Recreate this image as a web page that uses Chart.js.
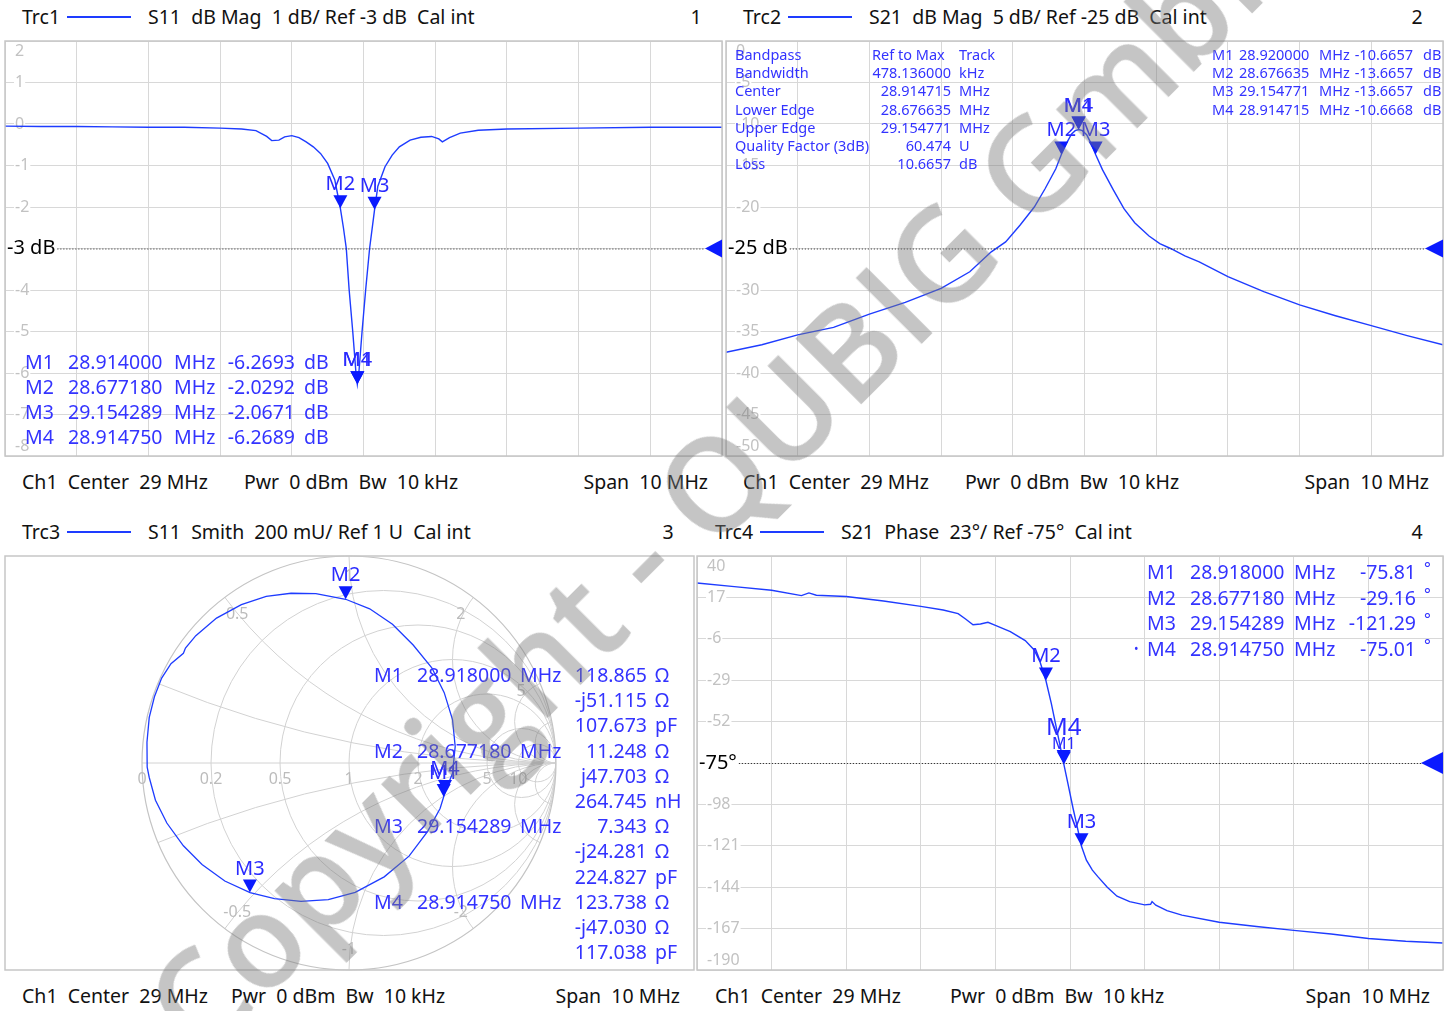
<!DOCTYPE html>
<html>
<head>
<meta charset="utf-8">
<title>VNA S11 / S21</title>
<script src="https://cdn.jsdelivr.net/npm/chart.js@4.4.1/dist/chart.umd.min.js"></script>
<style>
  html, body { margin: 0; padding: 0; background: #fff; }
  body { position: relative; width: 1456px; height: 1011px; overflow: hidden; font-family: "Noto Sans", "Open Sans", sans-serif; }
  canvas { position: absolute; }
  .t { position: absolute; white-space: pre; line-height: 1; }
  .bar { position: absolute; height: 2px; background: #1e3cff; }
  .wm { position: absolute; white-space: pre; font-family: "Open Sans", sans-serif; font-weight: 600; font-size: 130px;
        line-height: 1; color: rgba(120,120,120,0.43); transform-origin: 0 80%; transform: rotate(-45deg); pointer-events: none; }
</style>
</head>
<body>
<script>
// frequency axis (MHz) and y divisions
const freqTicks = [24, 25, 26, 27, 28, 29, 30, 31, 32, 33, 34];
const trc1Ticks = [2, 1, 0, -1, -2, -3, -4, -5, -6, -7, -8];
const trc2Ticks = [0, -5, -10, -15, -20, -25, -30, -35, -40, -45, -50];
const trc4Ticks = [40, 17, -6, -29, -52, -75, -98, -121, -144, -167, -190];

// Trc1: S11 dB Mag
const trc1Freq = [24.0, 24.5, 25.0, 25.5, 26.0, 26.5, 27.0, 27.3, 27.5, 27.65, 27.72, 27.82, 27.9, 28.0, 28.1, 28.2, 28.3, 28.4, 28.5, 28.6,
  28.677, 28.72, 28.76, 28.8, 28.85, 28.895, 28.914, 28.935, 28.98, 29.03, 29.085, 29.154, 29.2, 29.3, 29.4, 29.5, 29.65, 29.8, 29.95, 30.05,
  30.1, 30.2, 30.35, 30.6, 31.0, 32.0, 33.0, 34.0];
const trc1Db = [-0.05, -0.06, -0.06, -0.07, -0.08, -0.08, -0.1, -0.12, -0.16, -0.3, -0.4, -0.39, -0.31, -0.28, -0.33, -0.43, -0.55, -0.71, -0.95, -1.35,
  -2.03, -2.5, -3.0, -4.0, -5.0, -6.0, -6.27, -6.0, -5.0, -4.0, -3.0, -2.07, -1.5, -1.03, -0.75, -0.55, -0.39, -0.32, -0.3, -0.36,
  -0.43, -0.33, -0.22, -0.15, -0.12, -0.1, -0.08, -0.08];

// Trc2: S21 dB Mag
const trc2Freq = [24.0, 24.5, 25.0, 25.5, 26.0, 26.5, 27.0, 27.4, 27.7, 27.9, 28.1, 28.3, 28.45, 28.6, 28.677, 28.75, 28.82, 28.87, 28.92, 28.97,
  29.03, 29.09, 29.155, 29.25, 29.4, 29.55, 29.7, 29.9, 30.05, 30.2, 30.4, 30.6, 31.0, 31.5, 32.0, 32.5, 33.0, 33.5, 34.0];
const trc2Db = [-37.5, -36.6, -35.4, -34.5, -32.9, -31.5, -29.8, -27.8, -25.4, -24.2, -22.2, -20.0, -17.8, -15.4, -13.67, -12.3, -11.2, -10.8, -10.67, -10.8,
  -11.3, -12.3, -13.67, -15.5, -17.9, -20.2, -21.9, -23.5, -24.4, -25.0, -25.9, -26.6, -28.4, -30.2, -31.8, -33.1, -34.3, -35.5, -36.6];

// Trc4: S21 Phase (deg)
const trc4Freq = [24.0, 24.5, 25.0, 25.4, 25.5, 25.6, 26.0, 26.5, 27.0, 27.3, 27.5, 27.6, 27.7, 27.8, 27.9, 28.0, 28.2, 28.4, 28.52, 28.6,
  28.677, 28.75, 28.8, 28.86, 28.918, 28.98, 29.04, 29.1, 29.154, 29.22, 29.3, 29.37, 29.5, 29.63, 29.8, 30.0, 30.08, 30.1, 30.15, 30.3,
  30.5, 31.0, 31.5, 32.0, 32.5, 33.0, 33.5, 34.0];
const trc4Phase = [25, 23, 21, 18, 19.5, 18.2, 17.5, 15, 12, 10, 8, 5, 1.8, 2.2, 3.2, 1.5, -2, -7, -12.2, -19,
  -29.16, -42, -52, -64, -75.8, -88, -100, -111, -121.3, -129, -134.5, -138, -144, -149, -152, -153.8, -153.5, -152, -154, -157,
  -159.5, -163.5, -165.8, -168, -170, -172.5, -174, -175];

// Trc3: S11 Smith, reflection coefficient (real / imag)
const trc3Re = [-0.975, -0.976, -0.965, -0.94, -0.905, -0.86, -0.80, -0.79, -0.74, -0.64, -0.52, -0.40, -0.28, -0.16, -0.016, 0.10, 0.21, 0.31, 0.40, 0.46,
  0.50, 0.513, 0.50, 0.463, 0.44, 0.38, 0.29, 0.17, 0.03, -0.10, -0.232, -0.36, -0.478, -0.60, -0.71, -0.80, -0.88, -0.935, -0.965, -0.975];
const trc3Im = [-0.02, 0.10, 0.22, 0.32, 0.41, 0.48, 0.53, 0.555, 0.615, 0.70, 0.765, 0.805, 0.82, 0.818, 0.791, 0.745, 0.67, 0.57, 0.46, 0.34,
  0.21, 0.08, -0.05, -0.145, -0.22, -0.33, -0.45, -0.55, -0.625, -0.66, -0.668, -0.655, -0.626, -0.57, -0.49, -0.40, -0.29, -0.18, -0.07, -0.02];
const smithR = [0.2, 0.5, 1, 2, 5, 10];
const smithX = [0.2, 0.5, 1, 2, 5, 10];
const smithAxisLabels = [0, 0.2, 0.5, 1, 2, 5, 10];
const smithArcLabels = [0.5, 1, 2, 5, -0.5, -1, -2];

// markers
const mkNames = ['M1', 'M2', 'M3', 'M4'];
const trc1MkFreq = [28.914, 28.67718, 29.154289, 28.91475];
const trc1MkVal = [-6.2693, -2.0292, -2.0671, -6.2689];
const trc2MkFreq = [28.92, 28.676635, 29.154771, 28.914715];
const trc2MkVal = [-10.6657, -13.6657, -13.6657, -10.6668];
const trc3MkFreq = [28.918, 28.67718, 29.154289, 28.91475];
const trc3MkR = [118.865, 11.248, 7.343, 123.738];
const trc3MkX = [-51.115, 47.703, -24.281, -47.030];
const trc3MkLC = [107.673, 264.745, 224.827, 117.038];
const trc3MkLCUnit = ['pF', 'nH', 'pF', 'pF'];
const trc4MkFreq = [28.918, 28.67718, 29.154289, 28.91475];
const trc4MkVal = [-75.81, -29.16, -121.29, -75.01];

// bandpass search result (Trc2)
const bpLabels = ['Bandpass', 'Bandwidth', 'Center', 'Lower Edge', 'Upper Edge', 'Quality Factor (3dB)', 'Loss'];
const bpValues = ['Ref to Max', '478.136000', '28.914715', '28.676635', '29.154771', '60.474', '10.6657'];
const bpUnits = ['Track', 'kHz', 'MHz', 'MHz', 'MHz', 'U', 'dB'];

const blue = '#1e3cff';
const markBlue = '#0a1aff';
const textBlue = '#3333ff';
const FONT = '"Noto Sans", "Open Sans", sans-serif';
const PAD = 8;
const Z0 = 50;

const boxes = {
  trc1: { left: 5, top: 41, width: 717, height: 415 },
  trc2: { left: 726, top: 41, width: 717, height: 415 },
  trc3: { left: 5, top: 556, width: 689, height: 414 },
  trc4: { left: 697, top: 556, width: 746, height: 414 }
};
const smithCenterX = 349;

function put(x, y, str, o = {}) {
  const d = document.createElement('div');
  d.className = 't';
  d.textContent = str;
  d.style.left = x + 'px';
  d.style.top = y + 'px';
  d.style.fontSize = (o.size || 19.5) + 'px';
  d.style.color = o.color || '#111';
  const tx = o.align === 'right' ? '-100%' : o.align === 'center' ? '-50%' : '0';
  d.style.transform = `translate(${tx}, -55%)`;
  document.body.appendChild(d);
}

function makeCanvas(box) {
  const c = document.createElement('canvas');
  c.width = box.width + 2 * PAD;
  c.height = box.height + 2 * PAD;
  c.style.left = (box.left - PAD) + 'px';
  c.style.top = (box.top - PAD) + 'px';
  c.style.width = c.width + 'px';
  c.style.height = c.height + 'px';
  document.body.appendChild(c);
  return c;
}

function drawMarker(ctx, x, y, name, size = 20, lift = 18) {
  ctx.fillStyle = markBlue;
  ctx.beginPath();
  ctx.moveTo(x - 7, y - 13);
  ctx.lineTo(x + 7, y - 13);
  ctx.lineTo(x, y);
  ctx.closePath();
  ctx.fill();
  ctx.fillStyle = '#2a2aff';
  ctx.font = size + 'px ' + FONT;
  ctx.textAlign = 'center';
  ctx.textBaseline = 'alphabetic';
  ctx.fillText(name, x, y - lift);
}

function drawFrame(chart) {
  const { ctx, chartArea: a } = chart;
  ctx.save();
  ctx.strokeStyle = '#c6c6c6';
  ctx.lineWidth = 1.5;
  ctx.strokeRect(a.left, a.top, a.right - a.left, a.bottom - a.top);
  ctx.restore();
}

const vnaPlugin = {
  id: 'vna',
  beforeDatasetsDraw(chart, args, o) {
    const { ctx, chartArea: a } = chart;
    const ys = chart.scales.y;
    ctx.save();
    ctx.font = '16px ' + FONT;
    ctx.textBaseline = 'middle';
    ctx.textAlign = 'left';
    o.ticks.forEach((v, i) => {
      if (v === o.ref) return;
      let y = ys.getPixelForValue(v);
      if (i === 0) y = a.top + 10;
      if (i === o.ticks.length - 1) y = a.bottom - 10;
      const s = String(v);
      const w = ctx.measureText(s).width;
      ctx.fillStyle = '#fff';
      ctx.fillRect(a.left + 9, y - 8, w + 2, 16);
      ctx.fillStyle = '#c2c2c2';
      ctx.fillText(s, a.left + 10, y);
    });
    ctx.restore();
  },
  afterDatasetsDraw(chart, args, o) {
    const { ctx, chartArea: a } = chart;
    const xs = chart.scales.x, ys = chart.scales.y;
    drawFrame(chart);
    ctx.save();
    // reference line
    const yr = ys.getPixelForValue(o.ref);
    ctx.font = '20px ' + FONT;
    ctx.textBaseline = 'middle';
    ctx.textAlign = 'left';
    const w = ctx.measureText(o.refLabel).width;
    ctx.fillStyle = '#fff';
    ctx.fillRect(a.left + 1, yr - 10, w + 3, 20);
    ctx.fillStyle = '#000';
    ctx.fillText(o.refLabel, a.left + 2, yr);
    ctx.strokeStyle = '#222';
    ctx.lineWidth = 1;
    ctx.setLineDash([1, 2]);
    ctx.beginPath();
    ctx.moveTo(a.left + w + 4, yr + 0.5);
    ctx.lineTo(a.right - o.triW, yr + 0.5);
    ctx.stroke();
    ctx.setLineDash([]);
    ctx.fillStyle = markBlue;
    ctx.beginPath();
    ctx.moveTo(a.right, yr - o.triH);
    ctx.lineTo(a.right, yr + o.triH);
    ctx.lineTo(a.right - o.triW, yr);
    ctx.closePath();
    ctx.fill();
    // markers, M1 and M4 last
    [1, 2, 0, 3].forEach(i => {
      const x = xs.getPixelForValue(o.mkFreq[i]), y = ys.getPixelForValue(o.mkVal[i]);
      if (o.stackM4 && i === 0) drawMarker(ctx, x, y, mkNames[i], 16, 15);
      else if (o.stackM4 && i === 3) drawMarker(ctx, x, y, mkNames[i], 24, 28);
      else drawMarker(ctx, x, y, mkNames[i]);
    });
    ctx.restore();
  }
};

function traceChart(box, freq, vals, yTicks, plug) {
  const grid = { color: '#d8d8d8', lineWidth: 1, drawTicks: false };
  return new Chart(makeCanvas(box), {
    type: 'line',
    data: {
      datasets: [{
        data: freq.map((f, i) => ({ x: f, y: vals[i] })),
        borderColor: blue,
        borderWidth: 1.4,
        pointRadius: 0,
        tension: 0
      }]
    },
    options: {
      responsive: false,
      animation: false,
      devicePixelRatio: 1,
      layout: { padding: PAD },
      plugins: { legend: { display: false }, tooltip: { enabled: false }, vna: plug },
      scales: {
        x: {
          type: 'linear', min: freqTicks[0], max: freqTicks[freqTicks.length - 1],
          afterBuildTicks: s => { s.ticks = freqTicks.map(v => ({ value: v })); },
          ticks: { display: false }, grid, border: { display: false }
        },
        y: {
          type: 'linear', min: yTicks[yTicks.length - 1], max: yTicks[0],
          afterBuildTicks: s => { s.ticks = yTicks.map(v => ({ value: v })); },
          ticks: { display: false }, grid, border: { display: false }
        }
      }
    },
    plugins: [vnaPlugin]
  });
}

traceChart(boxes.trc1, trc1Freq, trc1Db, trc1Ticks,
  { ticks: trc1Ticks, ref: -3, refLabel: '-3 dB', triW: 17, triH: 9, mkFreq: trc1MkFreq, mkVal: trc1MkVal });
traceChart(boxes.trc2, trc2Freq, trc2Db, trc2Ticks,
  { ticks: trc2Ticks, ref: -25, refLabel: '-25 dB', triW: 18, triH: 9, mkFreq: trc2MkFreq, mkVal: trc2MkVal });
traceChart(boxes.trc4, trc4Freq, trc4Phase, trc4Ticks,
  { ticks: trc4Ticks, ref: -75, refLabel: '-75°', triW: 22, triH: 11, mkFreq: trc4MkFreq, mkVal: trc4MkVal, stackM4: true });

// Smith chart
function gammaOf(r, x) {
  const zr = r / Z0, zi = x / Z0;
  const nr = zr - 1, ni = zi, dr = zr + 1, di = zi;
  const d = dr * dr + di * di;
  return { re: (nr * dr + ni * di) / d, im: (ni * dr - nr * di) / d };
}

const smithPlugin = {
  id: 'smith',
  beforeDatasetsDraw(chart) {
    const { ctx } = chart;
    const xs = chart.scales.x, ys = chart.scales.y;
    const px = v => xs.getPixelForValue(v), py = v => ys.getPixelForValue(v);
    const R = px(1) - px(0);
    ctx.save();
    ctx.beginPath();
    ctx.arc(px(0), py(0), R, 0, 2 * Math.PI);
    ctx.clip();
    ctx.strokeStyle = '#d2d2d2';
    ctx.lineWidth = 1;
    smithR.forEach(r => {
      ctx.beginPath();
      ctx.arc(px(r / (1 + r)), py(0), R / (1 + r), 0, 2 * Math.PI);
      ctx.stroke();
    });
    smithX.forEach(x => {
      [x, -x].forEach(v => {
        ctx.beginPath();
        ctx.arc(px(1), py(1 / v), R / x, 0, 2 * Math.PI);
        ctx.stroke();
      });
    });
    ctx.beginPath();
    ctx.moveTo(px(-1), py(0));
    ctx.lineTo(px(1), py(0));
    ctx.stroke();
    ctx.restore();
    ctx.save();
    ctx.strokeStyle = '#c4c4c4';
    ctx.lineWidth = 1.2;
    ctx.beginPath();
    ctx.arc(px(0), py(0), R, 0, 2 * Math.PI);
    ctx.stroke();
    ctx.font = '16px ' + FONT;
    ctx.fillStyle = '#bcbcbc';
    ctx.textAlign = 'center';
    ctx.textBaseline = 'middle';
    smithAxisLabels.forEach(r => {
      ctx.fillText(String(r), px((r - 1) / (r + 1)), py(0) + 16);
    });
    smithArcLabels.forEach(x => {
      const g = gammaOf(0, x * Z0);
      ctx.fillText(String(x), px(g.re * 0.9), py(g.im * 0.9));
    });
    ctx.restore();
  },
  afterDatasetsDraw(chart) {
    const { ctx } = chart;
    const xs = chart.scales.x, ys = chart.scales.y;
    drawFrame(chart);
    ctx.save();
    [1, 2, 0, 3].forEach(i => {
      const g = gammaOf(trc3MkR[i], trc3MkX[i]);
      drawMarker(ctx, xs.getPixelForValue(g.re), ys.getPixelForValue(g.im), mkNames[i]);
    });
    ctx.restore();
  }
};

(function smithChart() {
  const box = boxes.trc3;
  const unit = box.height / 2;
  new Chart(makeCanvas(box), {
    type: 'scatter',
    data: {
      datasets: [{
        data: trc3Re.map((g, i) => ({ x: g, y: trc3Im[i] })),
        showLine: true,
        borderColor: blue,
        borderWidth: 1.3,
        pointRadius: 0,
        tension: 0
      }]
    },
    options: {
      responsive: false,
      animation: false,
      devicePixelRatio: 1,
      layout: { padding: PAD },
      plugins: { legend: { display: false }, tooltip: { enabled: false } },
      scales: {
        x: { type: 'linear', display: false, min: -(smithCenterX - box.left) / unit, max: (box.left + box.width - smithCenterX) / unit },
        y: { type: 'linear', display: false, min: -1, max: 1 }
      }
    },
    plugins: [smithPlugin]
  });
})();

// headers
function header(x0, y, trc, desc, num, numX) {
  put(x0, y, trc);
  const b = document.createElement('div');
  b.className = 'bar';
  b.style.left = (x0 + 45) + 'px';
  b.style.top = (y - 2) + 'px';
  b.style.width = '64px';
  document.body.appendChild(b);
  put(x0 + 126, y, desc);
  put(numX, y, num, { align: 'center' });
}
header(22, 18, 'Trc1', 'S11  dB Mag  1 dB/ Ref -3 dB  Cal int', '1', 696);
header(743, 18, 'Trc2', 'S21  dB Mag  5 dB/ Ref -25 dB  Cal int', '2', 1417);
header(22, 533, 'Trc3', 'S11  Smith  200 mU/ Ref 1 U  Cal int', '3', 668);
header(715, 533, 'Trc4', 'S21  Phase  23°/ Ref -75°  Cal int', '4', 1417);

// footers
function footer(x0, pwrX, spanR, y) {
  put(x0, y, 'Ch1  Center  29 MHz');
  put(pwrX, y, 'Pwr  0 dBm  Bw  10 kHz');
  put(spanR, y, 'Span  10 MHz', { align: 'right' });
}
footer(22, 244, 708, 483);
footer(743, 965, 1429, 483);
footer(22, 231, 680, 997);
footer(715, 950, 1430, 997);

// marker tables
const blueTxt = { color: textBlue };
mkNames.forEach((m, i) => {
  const y = 363 + 25 * i;
  put(25, y, m, blueTxt);
  put(68, y, trc1MkFreq[i].toFixed(6), blueTxt);
  put(174, y, 'MHz', blueTxt);
  put(295, y, trc1MkVal[i].toFixed(4), { color: textBlue, align: 'right' });
  put(304, y, 'dB', blueTxt);
});

const small = { color: textBlue, size: 14.5 };
bpLabels.forEach((l, i) => {
  const y = 55 + 18.2 * i;
  put(735, y, l, small);
  if (i === 0) put(872, y, bpValues[i], small);
  else put(951, y, bpValues[i], { color: textBlue, size: 14.5, align: 'right' });
  put(959, y, bpUnits[i], small);
});
mkNames.forEach((m, i) => {
  const y = 55 + 18.2 * i;
  put(1212, y, m, small);
  put(1239, y, trc2MkFreq[i].toFixed(6), small);
  put(1319, y, 'MHz', small);
  put(1413, y, trc2MkVal[i].toFixed(4), { color: textBlue, size: 14.5, align: 'right' });
  put(1423, y, 'dB', small);
});

mkNames.forEach((m, i) => {
  const y0 = 676 + 25.2 * 3 * i;
  put(374, y0, m, blueTxt);
  put(417, y0, trc3MkFreq[i].toFixed(6), blueTxt);
  put(520, y0, 'MHz', blueTxt);
  const x = trc3MkX[i];
  const rows = [
    [trc3MkR[i].toFixed(3), 'Ω'],
    [(x < 0 ? '-j' : 'j') + Math.abs(x).toFixed(3), 'Ω'],
    [trc3MkLC[i].toFixed(3), trc3MkLCUnit[i]]
  ];
  rows.forEach((r, k) => {
    const y = y0 + 25.2 * k;
    put(647, y, r[0], { color: textBlue, align: 'right' });
    put(655, y, r[1], blueTxt);
  });
});

mkNames.forEach((m, i) => {
  const y = 573 + 25.5 * i;
  if (i === 3) put(1134, y, '•', { color: textBlue, size: 12 });
  put(1147, y, m, blueTxt);
  put(1190, y, trc4MkFreq[i].toFixed(6), blueTxt);
  put(1294, y, 'MHz', blueTxt);
  put(1416, y, trc4MkVal[i].toFixed(2), { color: textBlue, align: 'right' });
  put(1424, y - 4, '°', { color: textBlue, size: 16 });
});

// watermark
const wm = document.createElement('div');
wm.className = 'wm';
wm.textContent = 'Copyright - QUBIG GmbH';
wm.style.left = '195px';
wm.style.top = '951px';
document.body.appendChild(wm);
</script>
</body>
</html>
